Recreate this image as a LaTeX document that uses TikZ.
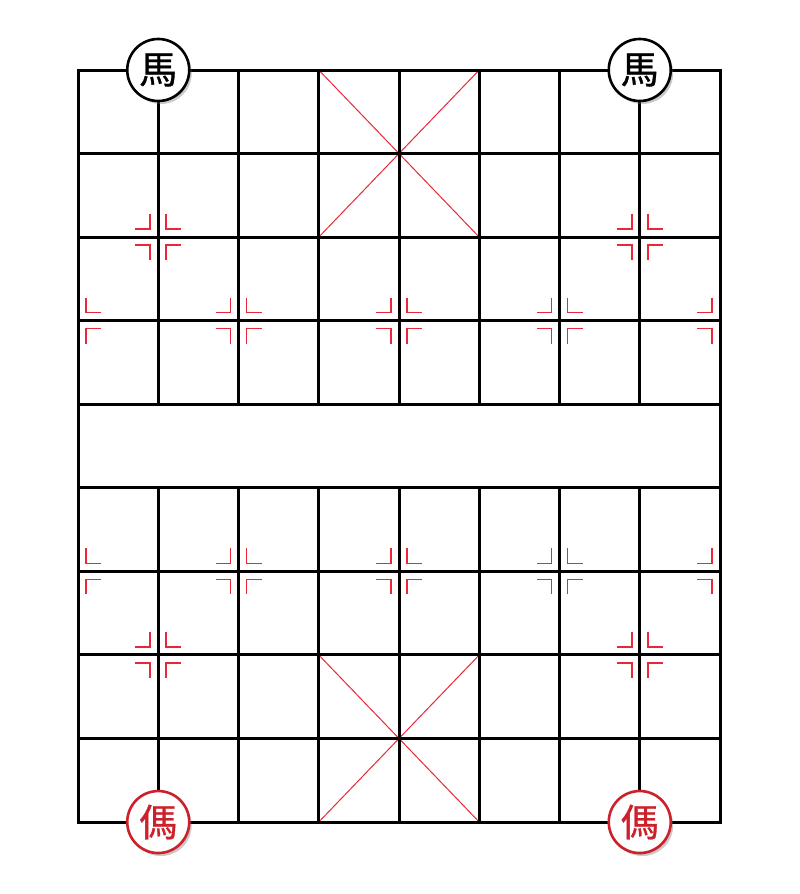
\documentclass[tikz,border=0pt]{standalone}
\usepackage{fontspec}
\newfontfamily\cjk[FakeBold=0.8]{Noto Sans CJK TC}
\usetikzlibrary{shadows}
\definecolor{boardred}{RGB}{232,40,55}
\definecolor{piecered}{RGB}{204,32,42}
\newcommand{\gx}[1]{78+80.25*#1}
\newcommand{\gy}[1]{70+83.56*#1}
\begin{document}
\begin{tikzpicture}[x=1pt,y=-1pt,
  gridline/.style={line width=3pt, black, line cap=rect},
  palace/.style={line width=1pt, boardred},
  marker/.style={line width=1.6pt, boardred},
  piece/.style={circle, minimum size=62pt, inner sep=0pt, line width=2.6pt, fill=white,
    drop shadow={shadow xshift=2.5pt, shadow yshift=-3pt, opacity=0.35, fill=black!60},
    font=\cjk\fontsize{38}{38}\selectfont},
  blackpiece/.style={piece, draw=black, text=black},
  redpiece/.style={piece, draw=piecered, text=piecered}]
\useasboundingbox (0,0) rectangle (800,894);
% palace diagonals
\draw[palace] ({\gx{3}},{\gy{0}}) -- ({\gx{5}},{\gy{2}});
\draw[palace] ({\gx{5}},{\gy{0}}) -- ({\gx{3}},{\gy{2}});
\draw[palace] ({\gx{3}},{\gy{7}}) -- ({\gx{5}},{\gy{9}});
\draw[palace] ({\gx{5}},{\gy{7}}) -- ({\gx{3}},{\gy{9}});
% horizontal lines
\foreach \j in {0,...,9}
  \draw[gridline] ({\gx{0}},{\gy{\j}}) -- ({\gx{8}},{\gy{\j}});
% vertical lines
\foreach \i in {0,8}
  \draw[gridline] ({\gx{\i}},{\gy{0}}) -- ({\gx{\i}},{\gy{9}});
\foreach \i in {1,...,7}{
  \draw[gridline] ({\gx{\i}},{\gy{0}}) -- ({\gx{\i}},{\gy{4}});
  \draw[gridline] ({\gx{\i}},{\gy{5}}) -- ({\gx{\i}},{\gy{9}});
}
% position markers: (col,row,sx,sy)
\def\md{8}\def\ml{15}
\foreach \c/\r/\sx/\sy in {
  1/2/-1/-1,1/2/1/-1,1/2/-1/1,1/2/1/1,
  7/2/-1/-1,7/2/1/-1,7/2/-1/1,7/2/1/1,
  0/3/1/-1,0/3/1/1,
  2/3/-1/-1,2/3/1/-1,2/3/-1/1,2/3/1/1,
  4/3/-1/-1,4/3/1/-1,4/3/-1/1,4/3/1/1,
  6/3/-1/-1,6/3/1/-1,6/3/-1/1,6/3/1/1,
  8/3/-1/-1,8/3/-1/1,
  0/6/1/-1,0/6/1/1,
  2/6/-1/-1,2/6/1/-1,2/6/-1/1,2/6/1/1,
  4/6/-1/-1,4/6/1/-1,4/6/-1/1,4/6/1/1,
  6/6/-1/-1,6/6/1/-1,6/6/-1/1,6/6/1/1,
  8/6/-1/-1,8/6/-1/1,
  1/7/-1/-1,1/7/1/-1,1/7/-1/1,1/7/1/1,
  7/7/-1/-1,7/7/1/-1,7/7/-1/1,7/7/1/1}{
  \draw[marker] ({\gx{\c}+\sx*\md},{\gy{\r}+\sy*(\md+\ml)})
     -- ({\gx{\c}+\sx*\md},{\gy{\r}+\sy*\md})
     -- ({\gx{\c}+\sx*(\md+\ml)},{\gy{\r}+\sy*\md});
}
% pieces
\node[blackpiece] (bhl) at ({\gx{1}},{\gy{0}}) {馬};
\node[blackpiece] (bhr) at ({\gx{7}},{\gy{0}}) {馬};
\node[redpiece] (rhl) at ({\gx{1}},{\gy{9}}) {傌};
\node[redpiece] (rhr) at ({\gx{7}},{\gy{9}}) {傌};
\end{tikzpicture}
\end{document}
